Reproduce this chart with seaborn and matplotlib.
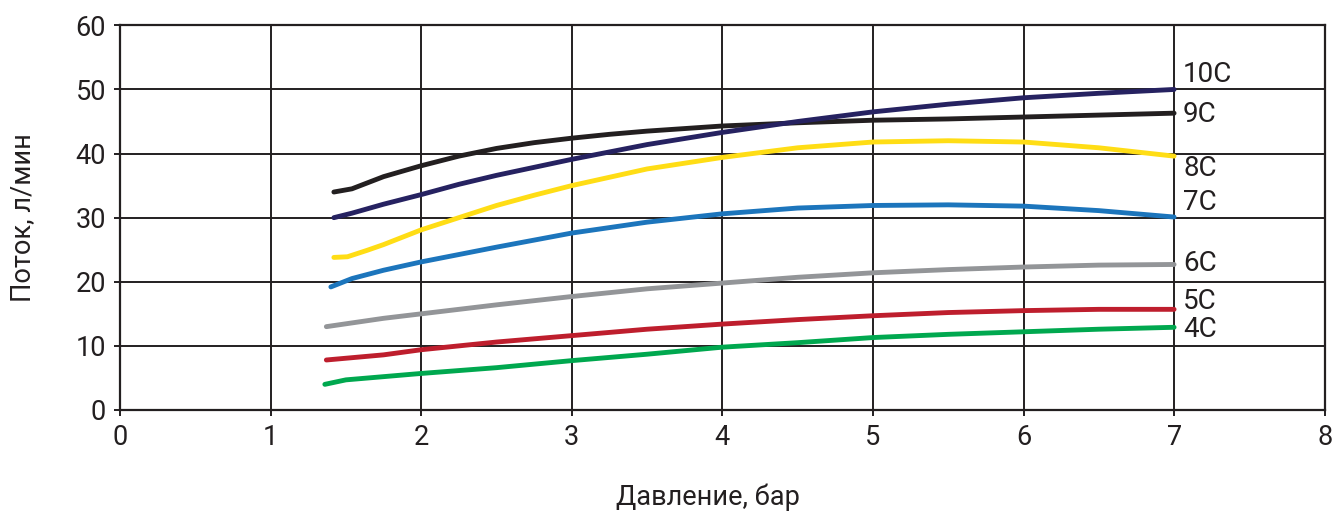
import pandas as pd
import seaborn as sns
import matplotlib.pyplot as plt

# Данные (давление, бар -> поток, л/мин)
x_9c = [1.42, 1.54, 1.75, 2.0, 2.25, 2.5, 2.75, 3.0, 3.25, 3.5, 3.75, 4.0, 4.5, 5.0, 5.5, 6.0, 6.5, 7.0]
y_9c = [34.0, 34.5, 36.4, 38.1, 39.6, 40.8, 41.7, 42.4, 43.0, 43.5, 43.9, 44.3, 44.8, 45.2, 45.4, 45.7, 46.0, 46.3]

x_10c = [1.42, 1.54, 1.75, 2.0, 2.25, 2.5, 3.0, 3.5, 4.0, 4.5, 5.0, 5.5, 6.0, 6.5, 7.0]
y_10c = [30.0, 30.7, 32.1, 33.6, 35.2, 36.6, 39.1, 41.4, 43.3, 45.0, 46.5, 47.7, 48.7, 49.4, 50.0]

x_8c = [1.42, 1.51, 1.64, 1.75, 2.0, 2.25, 2.5, 2.75, 3.0, 3.5, 4.0, 4.5, 5.0, 5.5, 6.0, 6.5, 7.0]
y_8c = [23.8, 23.9, 24.9, 25.8, 28.1, 30.0, 31.9, 33.5, 35.0, 37.6, 39.4, 40.9, 41.8, 42.0, 41.8, 40.9, 39.6]

x_7c = [1.40, 1.54, 1.75, 2.0, 2.5, 3.0, 3.5, 4.0, 4.5, 5.0, 5.5, 6.0, 6.5, 7.0]
y_7c = [19.2, 20.5, 21.8, 23.1, 25.4, 27.6, 29.3, 30.6, 31.5, 31.9, 32.0, 31.8, 31.1, 30.1]

x_6c = [1.37, 1.75, 2.0, 2.5, 3.0, 3.5, 4.0, 4.5, 5.0, 5.5, 6.0, 6.5, 7.0]
y_6c = [13.0, 14.3, 15.0, 16.4, 17.7, 18.9, 19.8, 20.7, 21.4, 21.9, 22.3, 22.6, 22.7]

x_5c = [1.37, 1.75, 2.0, 2.5, 3.0, 3.5, 4.0, 4.5, 5.0, 5.5, 6.0, 6.5, 7.0]
y_5c = [7.8, 8.6, 9.4, 10.6, 11.6, 12.6, 13.4, 14.1, 14.7, 15.2, 15.5, 15.7, 15.7]

x_4c = [1.36, 1.5, 1.75, 2.0, 2.5, 3.0, 3.5, 4.0, 4.5, 5.0, 5.5, 6.0, 6.5, 7.0]
y_4c = [4.0, 4.7, 5.2, 5.7, 6.6, 7.7, 8.7, 9.8, 10.5, 11.3, 11.8, 12.2, 12.6, 12.9]

series = ['9C', '10C', '8C', '7C', '6C', '5C', '4C']
colors = ['#231f20', '#262261', '#ffdd15', '#1c75bc', '#939598', '#be1e2d', '#00a84f']

# Подписи кривых справа
label_names = ['10C', '9C', '8C', '7C', '6C', '5C', '4C']
label_y = [52.3, 46.1, 37.7, 32.4, 22.9, 16.9, 12.5]

x_ticks = [0, 1, 2, 3, 4, 5, 6, 7, 8]
y_ticks = [0, 10, 20, 30, 40, 50, 60]

sns.set_style('white')
plt.rcParams['font.family'] = ['Roboto', 'DejaVu Sans']

frames = []
for name, xs, ys in zip(series,
                        [x_9c, x_10c, x_8c, x_7c, x_6c, x_5c, x_4c],
                        [y_9c, y_10c, y_8c, y_7c, y_6c, y_5c, y_4c]):
    frames.append(pd.DataFrame({'Давление': xs, 'Поток': ys, 'Серия': name}))
df = pd.concat(frames, ignore_index=True)

fig = plt.figure(figsize=(13.34, 5.13), dpi=100)
ax = fig.add_axes([0.09, 0.2008, 0.903, 0.7498])

ax.grid(True, color='#231f20', linewidth=1.4)
ax.set_axisbelow(True)

sns.lineplot(data=df, x='Давление', y='Поток', hue='Серия', hue_order=series,
             palette=dict(zip(series, colors)), sort=False, estimator=None,
             linewidth=3.5, legend=False, ax=ax, zorder=3)

for name, yy in zip(label_names, label_y):
    ax.text(7.06, yy, name, fontsize=20, color='#231f20', va='center', ha='left')

ax.set_xlim(0, 8)
ax.set_ylim(0, 60)
ax.set_xticks(x_ticks)
ax.set_yticks(y_ticks)
ax.tick_params(axis='both', direction='out', length=4, width=1.4, color='#231f20',
               labelsize=19.5, labelcolor='#231f20', pad=6, left=True, bottom=True)

for sp in ax.spines.values():
    sp.set_color('#231f20')
    sp.set_linewidth(1.6)

ax.set_xlabel('Давление, бар', fontsize=19.5, color='#231f20')
ax.set_ylabel('Поток, л/мин', fontsize=19.5, color='#231f20')
ax.xaxis.set_label_coords(0.488, -0.226)
ax.yaxis.set_label_coords(-0.081, 0.5)
ax.xaxis.label.set_va('center')
ax.yaxis.label.set_va('center')

fig.savefig('out.png', dpi=100)
